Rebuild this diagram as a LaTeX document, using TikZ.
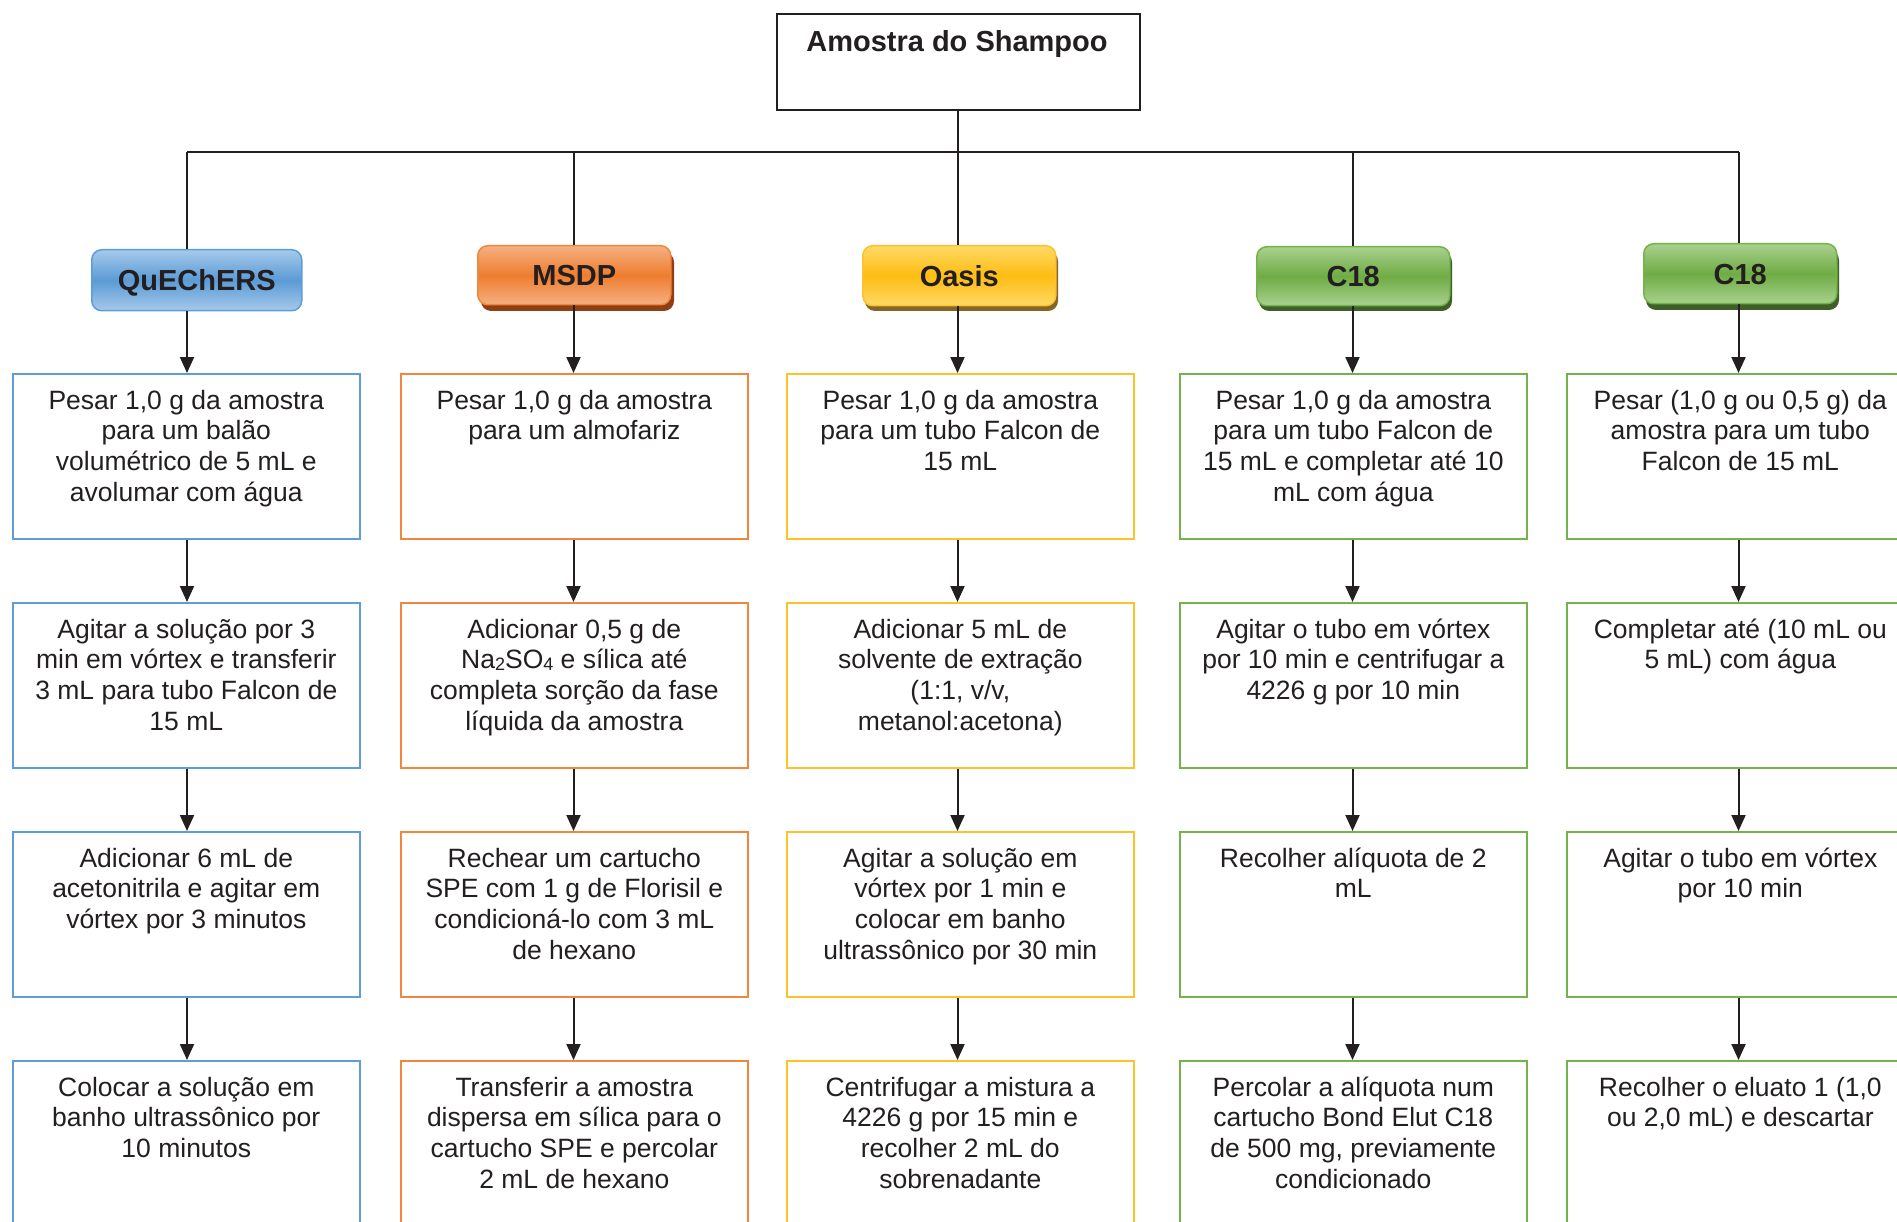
\documentclass[tikz,border=0pt]{standalone}
\usepackage{fontspec}
\setmainfont{Liberation Sans}
\usetikzlibrary{arrows.meta,calc}
\definecolor{ink}{HTML}{231F20}
\definecolor{bBorder}{HTML}{5E9DD8}
\definecolor{bMid}{HTML}{5B9BD5}
\definecolor{bLight}{HTML}{A6C9EB}
\definecolor{oBorder}{HTML}{F0873C}
\definecolor{oMid}{HTML}{EE7D2F}
\definecolor{oLight}{HTML}{F5B082}
\definecolor{oShadow}{HTML}{8E3F16}
\definecolor{yBorder}{HTML}{FDC12A}
\definecolor{yMid}{HTML}{FDBD12}
\definecolor{yLight}{HTML}{FFD966}
\definecolor{yShadow}{HTML}{816628}
\definecolor{gBorder}{HTML}{74B34B}
\definecolor{gMid}{HTML}{6FAC44}
\definecolor{gLight}{HTML}{A9D18E}
\definecolor{gShadow}{HTML}{3E5F28}
\newcommand{\mylines}[1]{\begin{tabular}[t]{@{}c@{}}#1\end{tabular}}
\newcommand{\mysub}[1]{\raisebox{-1.5pt}{\fontsize{18}{18}\selectfont #1}}
\tikzset{
  steptxt/.style={font=\fontsize{26.5}{30.7}\selectfont, text=ink, inner sep=0pt, anchor=base},
  stepbox/.style={draw=#1, line width=1.6pt, minimum width=347pt, minimum height=165pt, inner sep=0pt, anchor=north west, fill=white},
  btnbox/.style n args={3}{draw=#1, line width=1.5pt, rounded corners=10pt, top color=#3, bottom color=#3, middle color=#2,
     inner sep=0pt, anchor=north west, text=ink, font=\bfseries\fontsize{29}{34}\selectfont, text height=20.8pt, text depth=0pt},
  shadowbox/.style={fill=#1, rounded corners=10pt},
  arr/.style={-{Triangle[length=16pt,width=14pt]}, line width=2pt, draw=ink},
  plainline/.style={line width=2pt, draw=ink},
}
\begin{document}
\begin{tikzpicture}[x=1pt,y=-1pt]
\useasboundingbox (0,0) rectangle (1897,1222);
\fill[white] (0,0) rectangle (1897,1222);
\clip (0,0) rectangle (1897,1222);

% top box
\node[draw=ink, line width=2pt, minimum width=363pt, minimum height=96pt, inner sep=0pt, anchor=north west] (top) at (776,13) {};
\node[font=\bfseries\fontsize{29}{34}\selectfont, text=ink, inner sep=0pt, anchor=base] (toptxt) at (957,52) {Amostra do Shampoo};

% hub line coordinates
\coordinate (hub) at (957.5,152);
\coordinate (h1) at (187,152);
\coordinate (h2) at (573.5,152);
\coordinate (h3) at (957.5,152);
\coordinate (h4) at (1352.5,152);
\coordinate (h5) at (1738.5,152);

% buttons (shadows first)
\fill[shadowbox=oShadow] (481,252) rectangle (674,311);
\fill[shadowbox=yShadow] (865,251) rectangle (1058,311);
\fill[shadowbox=gShadow] (1259,252) rectangle (1452,311);
\fill[shadowbox=gShadow] (1646,250) rectangle (1839,310);

\node[btnbox={bBorder}{bMid}{bLight}, minimum width=210pt, minimum height=61pt] (btn1) at (91,249) {QuEChERS};
\node[btnbox={oBorder}{oMid}{oLight}, minimum width=193pt, minimum height=59pt] (btn2) at (477,245) {MSDP};
\node[btnbox={yBorder}{yMid}{yLight}, minimum width=193pt, minimum height=60pt] (btn3) at (862,245) {Oasis};
\node[btnbox={gBorder}{gMid}{gLight}, minimum width=193pt, minimum height=59pt] (btn4) at (1256,246) {C18};
\node[btnbox={gBorder}{gMid}{gLight}, minimum width=193pt, minimum height=60pt] (btn5) at (1643,243) {C18};

% tree lines
\draw[plainline] (top.south -| hub) -- (hub);
\draw[plainline] (h1) -- (h5);
\draw[plainline] (h1) -- (h1 |- btn1.north);
\draw[plainline] (h2) -- (h2 |- btn2.north);
\draw[plainline] (h3) -- (h3 |- btn3.north);
\draw[plainline] (h4) -- (h4 |- btn4.north);
\draw[plainline] (h5) -- (h5 |- btn5.north);

% ---------- column 1 (QuEChERS)
\node[stepbox=bBorder] (a1) at (12,373) {};
\node[stepbox=bBorder] (a2) at (12,602) {};
\node[stepbox=bBorder] (a3) at (12,831) {};
\node[stepbox=bBorder] (a4) at (12,1060) {};
\node[steptxt] (ta1) at ([yshift=-36pt]a1.north) {\mylines{Pesar 1,0 g da amostra\\para um balão\\volumétrico de 5 mL e\\avolumar com água}};
\node[steptxt] (ta2) at ([yshift=-36pt]a2.north) {\mylines{Agitar a solução por 3\\min em vórtex e transferir\\3 mL para tubo Falcon de\\15 mL}};
\node[steptxt] (ta3) at ([yshift=-36pt]a3.north) {\mylines{Adicionar 6 mL de\\acetonitrila e agitar em\\vórtex por 3 minutos}};
\node[steptxt] (ta4) at ([yshift=-36pt]a4.north) {\mylines{Colocar a solução em\\banho ultrassônico por\\10 minutos}};

% ---------- column 2 (MSDP)
\node[stepbox=oBorder] (b1) at (400,373) {};
\node[stepbox=oBorder] (b2) at (400,602) {};
\node[stepbox=oBorder] (b3) at (400,831) {};
\node[stepbox=oBorder] (b4) at (400,1060) {};
\node[steptxt] (tb1) at ([yshift=-36pt]b1.north) {\mylines{Pesar 1,0 g da amostra\\para um almofariz}};
\node[steptxt] (tb2) at ([yshift=-36pt]b2.north) {\mylines{Adicionar 0,5 g de\\Na\mysub{2}SO\mysub{4} e sílica até\\completa sorção da fase\\líquida da amostra}};
\node[steptxt] (tb3) at ([yshift=-36pt]b3.north) {\mylines{Rechear um cartucho\\SPE com 1 g de Florisil e\\condicioná-lo com 3 mL\\de hexano}};
\node[steptxt] (tb4) at ([yshift=-36pt]b4.north) {\mylines{Transferir a amostra\\dispersa em sílica para o\\cartucho SPE e percolar\\2 mL de hexano}};

% ---------- column 3 (Oasis)
\node[stepbox=yBorder] (c1) at (786,373) {};
\node[stepbox=yBorder] (c2) at (786,602) {};
\node[stepbox=yBorder] (c3) at (786,831) {};
\node[stepbox=yBorder] (c4) at (786,1060) {};
\node[steptxt] (tc1) at ([yshift=-36pt]c1.north) {\mylines{Pesar 1,0 g da amostra\\para um tubo Falcon de\\15 mL}};
\node[steptxt] (tc2) at ([yshift=-36pt]c2.north) {\mylines{Adicionar 5 mL de\\solvente de extração\\(1:1, v/v,\\metanol:acetona)}};
\node[steptxt] (tc3) at ([yshift=-36pt]c3.north) {\mylines{Agitar a solução em\\vórtex por 1 min e\\colocar em banho\\ultrassônico por 30 min}};
\node[steptxt] (tc4) at ([yshift=-36pt]c4.north) {\mylines{Centrifugar a mistura a\\4226 g por 15 min e\\recolher 2 mL do\\sobrenadante}};

% ---------- column 4 (C18)
\node[stepbox=gBorder] (d1) at (1179,373) {};
\node[stepbox=gBorder] (d2) at (1179,602) {};
\node[stepbox=gBorder] (d3) at (1179,831) {};
\node[stepbox=gBorder] (d4) at (1179,1060) {};
\node[steptxt] (td1) at ([yshift=-36pt]d1.north) {\mylines{Pesar 1,0 g da amostra\\para um tubo Falcon de\\15 mL e completar até 10\\mL com água}};
\node[steptxt] (td2) at ([yshift=-36pt]d2.north) {\mylines{Agitar o tubo em vórtex\\por 10 min e centrifugar a\\4226 g por 10 min}};
\node[steptxt] (td3) at ([yshift=-36pt]d3.north) {\mylines{Recolher alíquota de 2\\mL}};
\node[steptxt] (td4) at ([yshift=-36pt]d4.north) {\mylines{Percolar a alíquota num\\cartucho Bond Elut C18\\de 500 mg, previamente\\condicionado}};

% ---------- column 5 (C18)
\node[stepbox=gBorder] (e1) at (1566,373) {};
\node[stepbox=gBorder] (e2) at (1566,602) {};
\node[stepbox=gBorder] (e3) at (1566,831) {};
\node[stepbox=gBorder] (e4) at (1566,1060) {};
\node[steptxt] (te1) at ([yshift=-36pt]e1.north) {\mylines{Pesar (1,0 g ou 0,5 g) da\\amostra para um tubo\\Falcon de 15 mL}};
\node[steptxt] (te2) at ([yshift=-36pt]e2.north) {\mylines{Completar até (10 mL ou\\5 mL) com água}};
\node[steptxt] (te3) at ([yshift=-36pt]e3.north) {\mylines{Agitar o tubo em vórtex\\por 10 min}};
\node[steptxt] (te4) at ([yshift=-36pt]e4.north) {\mylines{Recolher o eluato 1 (1,0\\ou 2,0 mL) e descartar}};

% ---------- arrows
\draw[arr] (h1 |- btn1.south) -- (h1 |- a1.north);
\draw[arr] (h1 |- a1.south) -- (h1 |- a2.north);
\draw[arr] (h1 |- a2.south) -- (h1 |- a3.north);
\draw[arr] (h1 |- a3.south) -- (h1 |- a4.north);

\draw[arr] (h2 |- btn2.south) -- (h2 |- b1.north);
\draw[arr] (h2 |- b1.south) -- (h2 |- b2.north);
\draw[arr] (h2 |- b2.south) -- (h2 |- b3.north);
\draw[arr] (h2 |- b3.south) -- (h2 |- b4.north);

\draw[arr] (h3 |- btn3.south) -- (h3 |- c1.north);
\draw[arr] (h3 |- c1.south) -- (h3 |- c2.north);
\draw[arr] (h3 |- c2.south) -- (h3 |- c3.north);
\draw[arr] (h3 |- c3.south) -- (h3 |- c4.north);

\draw[arr] (h4 |- btn4.south) -- (h4 |- d1.north);
\draw[arr] (h4 |- d1.south) -- (h4 |- d2.north);
\draw[arr] (h4 |- d2.south) -- (h4 |- d3.north);
\draw[arr] (h4 |- d3.south) -- (h4 |- d4.north);

\draw[arr] (h5 |- btn5.south) -- (h5 |- e1.north);
\draw[arr] (h5 |- e1.south) -- (h5 |- e2.north);
\draw[arr] (h5 |- e2.south) -- (h5 |- e3.north);
\draw[arr] (h5 |- e3.south) -- (h5 |- e4.north);
\end{tikzpicture}
\end{document}
